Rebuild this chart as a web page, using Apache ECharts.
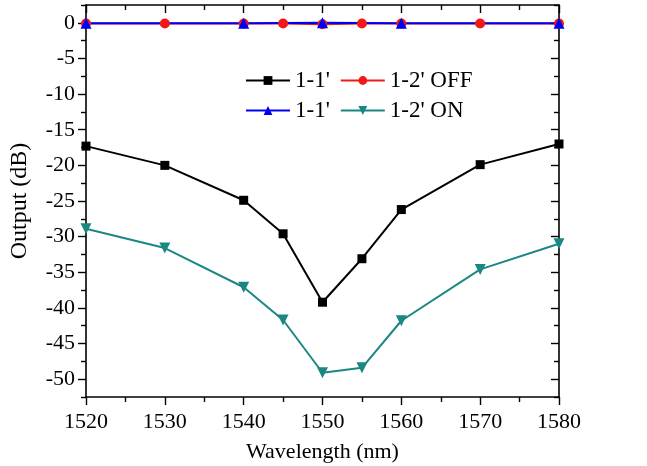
<!DOCTYPE html>
<html>
<head>
<meta charset="utf-8">
<script src="https://cdn.jsdelivr.net/npm/echarts@6/dist/echarts.min.js"></script>
<style>
  html, body { margin: 0; padding: 0; background: #fff; }
  #chart { width: 647px; height: 466px; }
</style>
</head>
<body>
<div id="chart"></div>
<script>
// Wavelength sweep (nm)
const wavelengths = [1520, 1530, 1540, 1545, 1550, 1555, 1560, 1570, 1580];
// Output (dB) per port
const port11Black = [-17.3, -20.0, -24.9, -29.6, -39.2, -33.1, -26.2, -19.9, -17.0];
const port12Off   = [-0.1, -0.1, -0.1, -0.1, -0.2, -0.1, -0.1, -0.1, -0.1];
const blueWavelengths = [1520, 1540, 1550, 1560, 1580];
const port11Blue  = [-0.05, -0.05, 0.0, -0.05, -0.05];
const port12On    = [-28.9, -31.6, -37.1, -41.7, -49.1, -48.4, -41.8, -34.6, -31.0];
const yMajorTicks = [-50, -45, -40, -35, -30, -25, -20, -15, -10, -5, 0];
const yMinorTicks = [-52.5, -47.5, -42.5, -37.5, -32.5, -27.5, -22.5, -17.5, -12.5, -7.5, -2.5, 2.5];

const pairs = (xs, ys) => xs.map((x, i) => [x, ys[i]]);
const FONT = "'Liberation Serif', 'Times New Roman', serif";
const ZW = '\u200b';

const chart = echarts.init(document.getElementById('chart'), null, { renderer: 'canvas' });

// Fixed plot rectangle; labels and names sit outside it
const grid = { left: 86, right: 88, top: 5, bottom: 69, outerBoundsMode: 'none', containLabel: false };
const axisLine = { show: true, onZero: false, lineStyle: { color: '#000', width: 1.6 } };
const tickStyle = { color: '#000', width: 1.4 };
const legendText = { fontFamily: FONT, fontSize: 23, color: '#000' };

const yBase = { type: 'value', min: -52.5, max: 2.5, splitLine: { show: false } };

chart.setOption({
  backgroundColor: '#fff',
  animation: false,
  grid: grid,
  legend: [
    {
      left: 245, top: 69, padding: 0, itemWidth: 44, itemHeight: 11, itemGap: 10,
      textStyle: legendText,
      data: ["1-1'", "1-2' OFF"],
      formatter: n => n.replace(ZW, '')
    },
    {
      left: 245, top: 99, padding: 0, itemWidth: 44, itemHeight: 11, itemGap: 10,
      textStyle: legendText,
      data: ["1-1'" + ZW, "1-2' ON"],
      formatter: n => n.replace(ZW, '')
    }
  ],
  xAxis: [
    {
      type: 'value', min: 1520, max: 1580, interval: 10, position: 'bottom',
      name: 'Wavelength (nm)', nameLocation: 'middle', nameGap: 44,
      nameTextStyle: { fontFamily: FONT, fontSize: 22, color: '#000' },
      axisLine: axisLine,
      axisTick: { show: true, inside: false, length: 8, lineStyle: tickStyle },
      minorTick: { show: true, splitNumber: 2, length: 5, lineStyle: tickStyle },
      axisLabel: { fontFamily: FONT, fontSize: 22, color: '#000', margin: 14, formatter: v => String(v) },
      splitLine: { show: false }, minorSplitLine: { show: false }
    },
    {
      type: 'value', min: 1520, max: 1580, interval: 10, position: 'top',
      axisLine: axisLine,
      axisTick: { show: true, inside: true, length: 8, lineStyle: tickStyle },
      minorTick: { show: true, splitNumber: 2, length: 5, lineStyle: tickStyle },
      axisLabel: { show: false },
      splitLine: { show: false }, minorSplitLine: { show: false }
    }
  ],
  yAxis: [
    Object.assign({}, yBase, {
      position: 'left',
      name: 'Output (dB)', nameLocation: 'middle', nameGap: 54,
      nameTextStyle: { fontFamily: FONT, fontSize: 24, color: '#000' },
      axisLine: axisLine,
      axisTick: { show: true, inside: false, length: 8, lineStyle: tickStyle, customValues: yMajorTicks },
      axisLabel: { fontFamily: FONT, fontSize: 22, color: '#000', margin: 11, customValues: yMajorTicks }
    }),
    Object.assign({}, yBase, {
      position: 'left',
      axisLine: { show: false },
      axisTick: { show: true, inside: false, length: 5, lineStyle: tickStyle, customValues: yMinorTicks },
      axisLabel: { show: false }
    }),
    Object.assign({}, yBase, {
      position: 'right',
      axisLine: axisLine,
      axisTick: { show: true, inside: true, length: 8, lineStyle: tickStyle, customValues: yMajorTicks },
      axisLabel: { show: false }
    }),
    Object.assign({}, yBase, {
      position: 'right',
      axisLine: { show: false },
      axisTick: { show: true, inside: true, length: 5, lineStyle: tickStyle, customValues: yMinorTicks },
      axisLabel: { show: false }
    })
  ],
  series: [
    {
      name: "1-1'", type: 'line', data: pairs(wavelengths, port11Black),
      symbol: 'rect', symbolSize: 9,
      itemStyle: { color: '#000' }, lineStyle: { color: '#000', width: 2 }
    },
    {
      name: "1-2' OFF", type: 'line', data: pairs(wavelengths, port12Off),
      symbol: 'circle', symbolSize: 10,
      itemStyle: { color: '#f21818' }, lineStyle: { color: '#f21818', width: 2 }
    },
    {
      name: "1-1'" + ZW, type: 'line', data: pairs(blueWavelengths, port11Blue),
      symbol: 'triangle', symbolSize: 11,
      itemStyle: { color: '#0000f0' }, lineStyle: { color: '#0000f0', width: 2 }
    },
    {
      name: "1-2' ON", type: 'line', data: pairs(wavelengths, port12On),
      symbol: 'triangle', symbolRotate: 180, symbolSize: 11,
      itemStyle: { color: '#1b8783' }, lineStyle: { color: '#1b8783', width: 2 }
    }
  ]
});
</script>
</body>
</html>
